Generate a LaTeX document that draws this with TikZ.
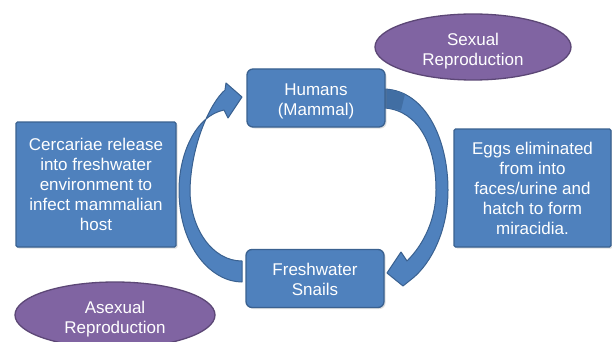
\documentclass[tikz,border=0pt]{standalone}
\usepackage{fontspec}
\setmainfont{Liberation Sans}
\usetikzlibrary{shapes.geometric,shadows}
\definecolor{boxfill}{HTML}{4F81BD}
\definecolor{boxline}{HTML}{3A6190}
\definecolor{ellfill}{HTML}{8064A2}
\definecolor{ellline}{HTML}{5C4776}
\definecolor{arrdark}{HTML}{416EA3}
\newcommand{\lowerby}[1]{\rule{0pt}{#1}}
\begin{document}
\begin{tikzpicture}[x=1pt,y=-1pt,
  txt/.style={text=white,font=\fontsize{17}{20}\selectfont,align=center,inner sep=0pt},
  shade/.style={drop shadow={shadow xshift=1.5pt,shadow yshift=-1.5pt,opacity=0.25}},
  roundbox/.style={txt,shade,draw=boxline,line width=1.3pt,fill=boxfill,rounded corners=6pt,
    minimum width=138pt,minimum height=58pt},
  sqbox/.style={txt,shade,draw=boxline,line width=1.3pt,fill=boxfill,rounded corners=1.5pt},
  ell/.style={txt,ellipse,draw=ellline,line width=1.3pt,fill=ellfill},
  blockarrow/.style={fill=boxfill,draw=boxline,line width=1pt,line join=round}]
\useasboundingbox (0,0) rectangle (612,342);
\fill[white] (0,0) rectangle (612,342);

% left block arrow (snails -> humans)
\draw[blockarrow] (242,261) -- (242,282)
  .. controls (212,282) and (179,248) .. (179,190)
  .. controls (179,155) and (195,116) .. (224,110)
  -- (228,118) -- (242,97) -- (226,83) -- (225,90)
  .. controls (210,103) and (191,145) .. (190,190)
  .. controls (190,228) and (212,261) .. (242,261) -- cycle;

% right block arrow (humans -> snails)
\draw[blockarrow] (385,89)
  .. controls (426,91) and (448,140) .. (448,190)
  .. controls (448,231) and (431,263) .. (413,278)
  -- (403,286) -- (387,273) -- (401,252) -- (407,261)
  .. controls (424,244) and (436,219) .. (436,190)
  .. controls (436,146) and (419,111) .. (385,108) -- cycle;
\fill[arrdark] (385.5,89.8) .. controls (393,90) and (399,91.5) .. (405,94)
  -- (401,110.5) .. controls (396,109) and (390,108.3) .. (385.5,108.2) -- cycle;

\node[roundbox] (humans) at (316,98) {\lowerby{18.5pt}Humans\\(Mammal)};
\node[roundbox] (snails) at (315,278.5) {\lowerby{14.5pt}Freshwater\\Snails};
\node[sqbox,minimum width=160pt,minimum height=125pt] (cerc) at (96,184.5)
  {Cercariae release\\into freshwater\\environment to\\infect mammalian\\host};
\node[sqbox,minimum width=157pt,minimum height=118pt] (eggs) at (532.5,188)
  {Eggs eliminated\\from into\\faces/urine and\\hatch to form\\miracidia.};
\node[ell,minimum width=196pt,minimum height=66pt] (sexual) at (473,47) {\lowerby{20pt}Sexual\\Reproduction};
\node[ell,minimum width=200pt,minimum height=66pt] (asexual) at (115,315) {\lowerby{20pt}Asexual\\Reproduction};
\end{tikzpicture}
\end{document}
